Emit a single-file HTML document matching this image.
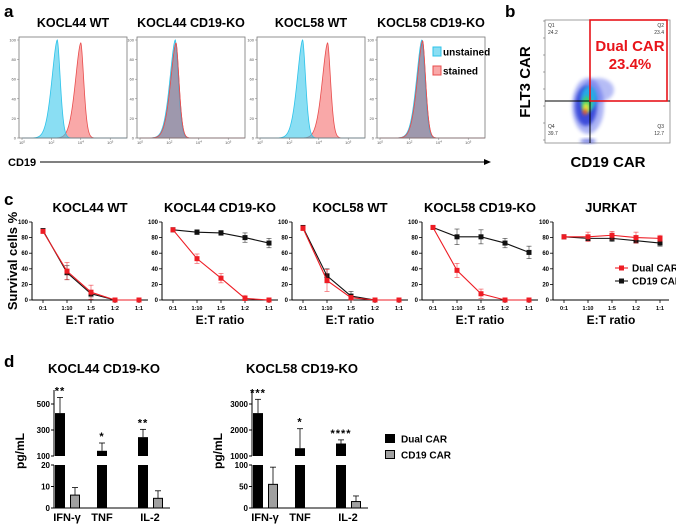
<!DOCTYPE html>
<html><head><meta charset="utf-8"><style>
body{margin:0;background:#fff}
svg{display:block;font-family:"Liberation Sans",Arial,sans-serif}
</style></head><body>
<svg id="fig" width="676" height="529" viewBox="0 0 676 529" xmlns="http://www.w3.org/2000/svg">
<defs>
<filter id="blur3" x="-50%" y="-50%" width="200%" height="200%"><feGaussianBlur stdDeviation="3"/></filter>
<filter id="blur2" x="-50%" y="-50%" width="200%" height="200%"><feGaussianBlur stdDeviation="1.8"/></filter>
</defs>
<text x="4" y="17" font-size="17" font-weight="bold">a</text>
<text x="505" y="17" font-size="17" font-weight="bold">b</text>
<text x="4" y="205" font-size="17" font-weight="bold">c</text>
<text x="4" y="367" font-size="17" font-weight="bold">d</text>
<g id="pa"></g>
<g id="pb"></g>
<g id="pc"></g>
<g id="pd"></g>
</svg>
<script>
// ---------- Panel a data ----------
const histTitles = ["KOCL44 WT","KOCL44 CD19-KO","KOCL58 WT","KOCL58 CD19-KO"];
const unstainedPeak = [2.4, 2.4, 2.9, 2.85];
const stainedPeak   = [4.0, 2.45, 4.6, 2.9];
const stainedHeight = [97, 97, 97, 99];
const histTickLabels = ["0","20","40","60","80","100"];

// ---------- Panel c data ----------
const ratioLabels = ["0:1","1:10","1:5","1:2","1:1"];
const survTitles = ["KOCL44 WT","KOCL44 CD19-KO","KOCL58 WT","KOCL58 CD19-KO","JURKAT"];
const dualVals = [[88,37,10,0,0],[90,53,28,2,0],[92,25,3,0,0],[93,38,8,0,0],[81,81,83,80,79]];
const dualErr  = [[2,11,9,1,1],[2,6,6,4,1],[3,14,3,1,1],[2,9,6,1,1],[2,6,5,7,4]];
const cd19Vals = [[89,35,8,0,0],[90,87,86,80,73],[93,31,5,0,0],[93,81,81,73,61],[81,79,79,76,73]];
const cd19Err  = [[2,9,4,0,0],[2,3,3,6,6],[2,9,6,1,1],[2,10,9,6,8],[2,3,4,3,4]];
const survTicks = [0,20,40,60,80,100];

// ---------- Panel d data ----------
const cytokines = ["IFN-γ","TNF","IL-2"];
const dTitles = ["KOCL44 CD19-KO","KOCL58 CD19-KO"];
const dDual = [[430,140,245],[2650,1300,1480]];
const dDualErr = [[120,60,60],[530,750,140]];
const dCd19 = [[6,null,4.5],[55,null,15]];
const dCd19Err = [[3.5,0,3.5],[40,0,13]];
const dStars = [["**","*","**"],["***","*","****"]];
const dUpperTicks = [[100,300,500],[1000,2000,3000]];
const dLowerTicks = [[0,10,20],[0,50,100]];

const NS="http://www.w3.org/2000/svg";
function mk(parent,tag,attrs,text){const e=document.createElementNS(NS,tag);for(const k in attrs)e.setAttribute(k,attrs[k]);if(text!=null)e.textContent=text;parent.appendChild(e);return e;}

// ---------- Panel a ----------
const pa=document.getElementById('pa');
const boxL=[19,137,257,377], boxW=108, boxT=37, boxB=138;
histTitles.forEach((t,i)=>{
  const L=boxL[i];
  const g=mk(pa,'g',{});
  
  
  const tt=mk(g,'text',{x:L+boxW/2,y:27,'font-size':12.5,'font-weight':'bold','text-anchor':'middle'},t);
  
  
  const xs=v=>L+3+v*14.7;
  const ys=v=>boxB-v*(boxB-boxT-3)/100;
  function curve(peak,h,fill,stroke){
    let d='M'+xs(0)+','+boxB;
    for(let lv=0;lv<=7;lv+=0.02){
      const s=lv<peak?0.36:0.2;
      const y=h*Math.exp(-Math.pow(Math.abs(lv-peak)/s,1.7)/2);
      const x=xs(lv); if(x>L+boxW)break;
      d+=' L'+x.toFixed(2)+','+ys(y).toFixed(2);
    }
    d+=' L'+(L+boxW)+','+boxB+' Z';
    return mk(g,'path',{d:d,fill:fill,stroke:stroke,'stroke-width':0.8});
  }
  const pr=curve(stainedPeak[i],stainedHeight[i],'rgba(245,110,110,0.6)','#e84c4c');
  
  
  const pc=curve(unstainedPeak[i],100,'rgba(60,200,235,0.6)','#2cc3ea');
  
  
  if(i==1||i==3){
    const pr2=curve(stainedPeak[i],stainedHeight[i],'rgba(200,90,110,0.35)','#e84c4c');
    
    
  }
  mk(g,'rect',{x:L,y:boxT,width:boxW,height:boxB-boxT,fill:'none',stroke:'#777','stroke-width':0.8});
  histTickLabels.forEach((lab,k)=>{
    const y=ys(k*20);
    mk(g,'line',{x1:L-2,x2:L,y1:y,y2:y,stroke:'#777','stroke-width':0.5});
    mk(g,'text',{x:L-3,y:y+1.5,'font-size':4,'text-anchor':'end',fill:'#555'},lab);
  });
  [0,2,4,6].forEach(d=>{
    mk(g,'line',{x1:xs(d),x2:xs(d),y1:boxB,y2:boxB+2,stroke:'#777','stroke-width':0.5});
    const tx=mk(g,'text',{x:xs(d),y:boxB+6,'font-size':4,'text-anchor':'middle',fill:'#555'},'10');
    mk(tx,'tspan',{dy:-1.5,'font-size':3},String(d));
  });
});
[[53,'rgba(60,200,235,0.6)','#2cc3ea','unstained'],[72,'rgba(245,110,110,0.6)','#e84c4c','stained']].forEach(r=>{
  const s=mk(pa,'rect',{x:433,y:r[0]-6,width:8,height:9,fill:r[1],stroke:r[2],'stroke-width':1});
  
  
  const t=mk(pa,'text',{x:443,y:r[0]+2.5,'font-size':10,'font-weight':'bold'},r[3]);
  
  
});
const cdl=mk(pa,'text',{x:8,y:166,'font-size':11,'font-weight':'bold'},'CD19');


mk(pa,'line',{x1:40,x2:484,y1:162,y2:162,stroke:'#000','stroke-width':1});
mk(pa,'path',{d:'M484,159 L491,162 L484,165 Z',fill:'#000'});

// ---------- Panel b ----------
const pb=document.getElementById('pb');
const bx0=545,bx1=670,by0=20,by1=143;
mk(pb,'rect',{x:bx0,y:by0,width:bx1-bx0,height:by1-by0,fill:'#fff',stroke:'#888','stroke-width':0.8});
const blobs=[[588,106,16,28,'#4a5ae8',0.45],[598,90,16,12,'#4a5ae8',0.4],[586,106,11,20,'#2b3bd6',0.85],[589,98,8,12,'#28b4e8',0.9],[587,104,5,8,'#3cd26a',0.95],[586,108,3,5,'#f3e83a',1],[585,112,2,3,'#e83a2a',1]];
blobs.forEach(b=>{
  const e=mk(pb,'ellipse',{cx:b[0],cy:b[1],rx:b[2],ry:b[3],fill:b[4],opacity:b[5],filter:'url(#blur2)'});
  
  
});
mk(pb,'ellipse',{cx:588,cy:141,rx:8,ry:2,fill:'#2b3bd6',opacity:0.7,filter:'url(#blur2)'});
mk(pb,'line',{x1:bx0,x2:bx1,y1:101,y2:101,stroke:'#000','stroke-width':1});
mk(pb,'line',{x1:590,x2:590,y1:by0,y2:by1,stroke:'#000','stroke-width':1});
const gate=mk(pb,'rect',{x:590,y:20,width:77,height:81,fill:'none',stroke:'#e8141a','stroke-width':1.6});


const dc=mk(pb,'text',{x:630,y:51,'font-size':15,'font-weight':'bold',fill:'#e8141a','text-anchor':'middle'},'Dual CAR');


mk(pb,'text',{x:630,y:69,'font-size':15,'font-weight':'bold',fill:'#e8141a','text-anchor':'middle'},'23.4%');
[[548,27,'Q1','start'],[548,34,'24.2','start'],[664,27,'Q2','end'],[664,34,'23.4','end'],[548,128,'Q4','start'],[548,135,'39.7','start'],[664,128,'Q3','end'],[664,135,'12.7','end']].forEach(q=>{
  mk(pb,'text',{x:q[0],y:q[1],'font-size':5,fill:'#333','text-anchor':q[3]},q[2]);
});
for(let k=0;k<=7;k++){
  const y=by1-3-k*17; mk(pb,'line',{x1:bx0-2,x2:bx0,y1:y,y2:y,stroke:'#555','stroke-width':0.5});
}
const fl=mk(pb,'text',{x:0,y:0,'font-size':15,'font-weight':'bold','text-anchor':'middle',transform:'translate(530,82) rotate(-90)'},'FLT3 CAR');


const cl=mk(pb,'text',{x:608,y:167,'font-size':15,'font-weight':'bold','text-anchor':'middle'},'CD19 CAR');



// ---------- Panel c ----------
const pc=document.getElementById('pc');
const panelL=[32,162,292,422,553], cT=222, cB=300, cW=116;
const ys=v=>cB-(v/100)*(cB-cT);
survTitles.forEach((t,i)=>{
  const L=panelL[i];
  const xs=j=>L+11+j*24;
  const g=mk(pc,'g',{});
  
  
  const tt=mk(g,'text',{x:L+58,y:212,'font-size':13,'font-weight':'bold','text-anchor':'middle'},t);
  
  
  mk(g,'line',{x1:L,x2:L,y1:cT,y2:cB,stroke:'#000','stroke-width':1});
  mk(g,'line',{x1:L,x2:L+cW,y1:cB,y2:cB,stroke:'#000','stroke-width':1});
  survTicks.forEach(v=>{
    mk(g,'line',{x1:L-3,x2:L,y1:ys(v),y2:ys(v),stroke:'#000','stroke-width':0.8});
    mk(g,'text',{x:L-4,y:ys(v)+2,'font-size':6,'font-weight':'bold','text-anchor':'end'},String(v));
  });
  ratioLabels.forEach((r,j)=>{
    mk(g,'line',{x1:xs(j),x2:xs(j),y1:cB,y2:cB+3,stroke:'#000','stroke-width':0.8});
    mk(g,'text',{x:xs(j),y:cB+10,'font-size':5.5,'font-weight':'bold','text-anchor':'middle'},r);
  });
  const et=mk(g,'text',{x:L+58,y:cB+24,'font-size':12,'font-weight':'bold','text-anchor':'middle'},'E:T ratio');
  
  
  function series(vals,errs,col,name){
    const sg=mk(g,'g',{});
    
    
    vals.forEach((v,j)=>{
      const e=errs[j];
      if(e>0){
        mk(sg,'line',{x1:xs(j),x2:xs(j),y1:ys(v+e),y2:ys(Math.max(0,v-e)),stroke:col,'stroke-width':0.7,opacity:0.7});
        mk(sg,'line',{x1:xs(j)-2.5,x2:xs(j)+2.5,y1:ys(v+e),y2:ys(v+e),stroke:col,'stroke-width':0.7,opacity:0.7});
        mk(sg,'line',{x1:xs(j)-2.5,x2:xs(j)+2.5,y1:ys(Math.max(0,v-e)),y2:ys(Math.max(0,v-e)),stroke:col,'stroke-width':0.7,opacity:0.7});
      }
    });
    mk(sg,'polyline',{points:vals.map((v,j)=>xs(j)+','+ys(v)).join(' '),fill:'none',stroke:col,'stroke-width':1.1});
    vals.forEach((v,j)=>{
      const m=mk(sg,'rect',{x:xs(j)-2.5,y:ys(v)-2.5,width:5,height:5,fill:col});
      
      
    });
  }
  series(cd19Vals[i],cd19Err[i],'#111','cd19-car-series');
  series(dualVals[i],dualErr[i],'#ee1c24','dual-car-series');
});
const sv=mk(pc,'text',{x:0,y:0,'font-size':13,'font-weight':'bold','text-anchor':'middle',transform:'translate(17,261) rotate(-90)'},'Survival cells %');


[[268,'#ee1c24','Dual CAR'],[281,'#111','CD19 CAR']].forEach(r=>{
  const lg=mk(pc,'g',{});
  
  
  mk(lg,'line',{x1:615,x2:628,y1:r[0],y2:r[0],stroke:r[1],'stroke-width':1.1});
  mk(lg,'rect',{x:619,y:r[0]-2.5,width:5,height:5,fill:r[1]});
  mk(lg,'text',{x:632,y:r[0]+3.5,'font-size':10,'font-weight':'bold'},r[2]);
});

// ---------- Panel d ----------
const pdg=document.getElementById('pd');
const dAxisX=[54,252], barOff=[[0,15],[42],[83,98]];
const upTop=390, upY0=456, upY1=404, loY0=508, loYt=465;
dTitles.forEach((t,c)=>{
  const A=dAxisX[c];
  const ut=dUpperTicks[c], lt=dLowerTicks[c];
  const yU=v=>upY0-(v-ut[0])/(ut[2]-ut[0])*(upY0-upY1);
  const yL=v=>loY0-(v/lt[2])*(loY0-loYt);
  const yv=v=>v<=lt[2]?yL(v):yU(Math.max(v,ut[0]));
  const g=mk(pdg,'g',{});
  
  
  const tt=mk(g,'text',{x:A+50,y:373,'font-size':13,'font-weight':'bold','text-anchor':'middle'},t);
  
  
  mk(g,'line',{x1:A,x2:A,y1:upTop,y2:upY0,stroke:'#000','stroke-width':1});
  mk(g,'line',{x1:A,x2:A,y1:loYt,y2:loY0,stroke:'#000','stroke-width':1});
  mk(g,'line',{x1:A,x2:A+116,y1:loY0,y2:loY0,stroke:'#000','stroke-width':1});
  ut.forEach(v=>{mk(g,'line',{x1:A-3,x2:A,y1:yU(v),y2:yU(v),stroke:'#000'});mk(g,'text',{x:A-4,y:yU(v)+3,'font-size':8,'font-weight':'bold','text-anchor':'end'},String(v));});
  lt.forEach(v=>{mk(g,'line',{x1:A-3,x2:A,y1:yL(v),y2:yL(v),stroke:'#000'});mk(g,'text',{x:A-4,y:yL(v)+3,'font-size':8,'font-weight':'bold','text-anchor':'end'},String(v));});
  const pg=mk(g,'text',{x:0,y:0,'font-size':12,'font-weight':'bold','text-anchor':'middle',transform:'translate('+(A-30)+',451) rotate(-90)'},'pg/mL');
  
  
  cytokines.forEach((cy,k)=>{
    const bx=A+1+barOff[k][0];
    const v=dDual[c][k], e=dDualErr[c][k];
    mk(g,'line',{x1:bx+5,x2:bx+5,y1:yv(v),y2:yv(v+e),stroke:'#000','stroke-width':0.8});
    mk(g,'line',{x1:bx+2,x2:bx+8,y1:yv(v+e),y2:yv(v+e),stroke:'#000','stroke-width':0.8});
    const b1=mk(g,'rect',{x:bx,y:yv(v),width:10,height:upY0-yv(v),fill:'#000'});
    
    
    const b2=mk(g,'rect',{x:bx,y:loYt,width:10,height:loY0-loYt,fill:'#000'});
    
    
    const st=mk(g,'text',{x:bx+5,y:yv(v+e)-3,'font-size':11,'font-weight':'bold','text-anchor':'middle','letter-spacing':'1'},dStars[c][k]);
    
    
    const gv=dCd19[c][k];
    if(gv!=null){
      const gx=A+1+barOff[k][1], ge=dCd19Err[c][k];
      mk(g,'line',{x1:gx+5,x2:gx+5,y1:yv(gv),y2:yv(gv+ge),stroke:'#000','stroke-width':0.8});
      mk(g,'line',{x1:gx+2,x2:gx+8,y1:yv(gv+ge),y2:yv(gv+ge),stroke:'#000','stroke-width':0.8});
      const gb=mk(g,'rect',{x:gx+0.5,y:yv(gv),width:9,height:loY0-yv(gv),fill:'#a0a0a0',stroke:'#000','stroke-width':1});
      
      
    }
    const lx=bx+(barOff[k].length>1?12:5);
    const lab=mk(g,'text',{x:lx,y:521,'font-size':11,'font-weight':'bold','text-anchor':'middle'},cy);
    
    
  });
});
[[439,'#000','Dual CAR'],[455,'#a0a0a0','CD19 CAR']].forEach(r=>{
  const lg=mk(pdg,'g',{});
  
  
  mk(lg,'rect',{x:385.5,y:r[0]-4.5,width:9,height:8,fill:r[1],stroke:'#000','stroke-width':1});
  mk(lg,'text',{x:401,y:r[0]+3.5,'font-size':10,'font-weight':'bold'},r[2]);
});
</script>
</body></html>
